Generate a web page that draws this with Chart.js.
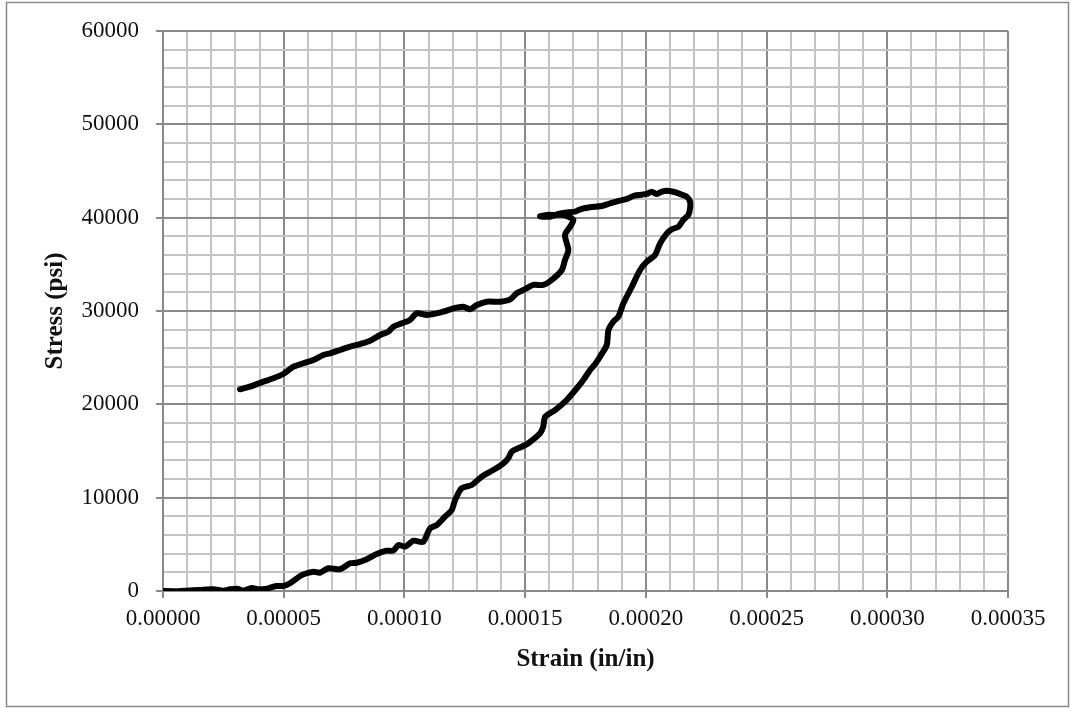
<!DOCTYPE html>
<html>
<head>
<meta charset="utf-8">
<script src="https://cdn.jsdelivr.net/npm/chart.js@4/dist/chart.umd.min.js"></script>
<style>
  html, body { margin: 0; padding: 0; background: #fff; }
  canvas { display: block; }
</style>
</head>
<body>
<canvas id="c" width="1070" height="708"></canvas>
<script>
// Strain (in/in) and stress (psi)
const strain = [
  0, 0.57e-5, 0.98e-5, 1.53e-5, 2.08e-5, 2.50e-5, 2.78e-5, 3.05e-5, 3.33e-5, 3.67e-5,
  3.95e-5, 4.30e-5, 4.50e-5, 4.71e-5, 4.98e-5, 5.26e-5, 5.68e-5, 5.95e-5, 6.23e-5, 6.50e-5,
  6.85e-5, 7.33e-5, 7.75e-5, 8.02e-5, 8.44e-5, 8.85e-5, 9.27e-5, 9.54e-5, 9.75e-5, 10.03e-5,
  10.37e-5, 10.78e-5, 11.06e-5, 11.34e-5, 11.68e-5, 11.96e-5, 12.10e-5, 12.37e-5, 12.79e-5, 13.20e-5,
  13.68e-5, 14.10e-5, 14.30e-5, 14.45e-5, 14.86e-5, 15.13e-5, 15.62e-5, 15.75e-5, 15.83e-5, 16.24e-5,
  16.72e-5, 17.14e-5, 17.41e-5, 17.69e-5, 17.90e-5, 18.10e-5, 18.38e-5, 18.45e-5, 18.65e-5, 18.86e-5,
  19.07e-5, 19.42e-5, 19.76e-5, 20.04e-5, 20.38e-5, 20.59e-5, 20.87e-5, 21.07e-5, 21.35e-5, 21.55e-5,
  21.76e-5, 21.83e-5, 21.83e-5, 21.69e-5, 21.53e-5, 21.35e-5, 21.14e-5, 20.87e-5, 20.66e-5, 20.45e-5,
  20.24e-5, 20.04e-5, 19.69e-5, 19.48e-5, 19.28e-5, 18.93e-5, 18.52e-5, 18.17e-5, 17.69e-5, 17.28e-5,
  17.07e-5, 16.65e-5, 16.31e-5, 16.03e-5, 15.75e-5, 15.62e-5, 15.90e-5, 16.24e-5, 16.58e-5, 17.00e-5,
  16.86e-5, 16.65e-5, 16.79e-5, 16.65e-5, 16.52e-5, 16.10e-5, 15.75e-5, 15.34e-5, 14.93e-5, 14.65e-5,
  14.38e-5, 13.96e-5, 13.41e-5, 13.00e-5, 12.72e-5, 12.44e-5, 12.03e-5, 11.61e-5, 11.34e-5, 10.92e-5,
  10.51e-5, 10.23e-5, 9.89e-5, 9.54e-5, 9.33e-5, 8.99e-5, 8.58e-5, 8.16e-5, 7.75e-5, 7.33e-5,
  6.92e-5, 6.64e-5, 6.23e-5, 5.81e-5, 5.40e-5, 4.98e-5, 4.57e-5, 4.16e-5, 3.60e-5, 3.19e-5
];
const stress = [
  0, -50, 30, 110, 180, 30, 180, 250, 30, 320,
  180, 250, 400, 540, 540, 830, 1610, 1900, 2070, 1960,
  2430, 2330, 2970, 3030, 3400, 3960, 4320, 4320, 4930, 4750,
  5390, 5280, 6720, 7070, 7960, 8680, 9750, 11000, 11360, 12250,
  12960, 13680, 14220, 14930, 15460, 15830, 16900, 17600, 18680, 19390,
  20460, 21720, 22610, 23680, 24320, 25100, 26360, 27960, 28850, 29390,
  30820, 32600, 34390, 35280, 36000, 37250, 38320, 38750, 39030, 39750,
  40290, 41000, 41710, 42250, 42430, 42610, 42780, 42890, 42780, 42540,
  42780, 42540, 42430, 42320, 42070, 41820, 41540, 41250, 41110, 40900,
  40640, 40530, 40360, 40100, 40100, 40150, 40300, 40290, 40290, 39750,
  39030, 38140, 36540, 35460, 34390, 33320, 32790, 32790, 32250, 31900,
  31250, 31000, 31000, 30640, 30180, 30460, 30290, 29930, 29750, 29570,
  29750, 29040, 28680, 28320, 27780, 27430, 26820, 26460, 26170, 25820,
  25470, 25290, 24750, 24400, 24030, 23250, 22790, 22430, 21890, 21610
];

// Axis settings
const xMin = 0, xMax = 0.00035, xMajor = 0.00005, xMinorPerMajor = 5;
const yMin = 0, yMax = 60000, yMajor = 10000, yMinorPerMajor = 5;
const xTitle = 'Strain (in/in)';
const yTitle = 'Stress (psi)';

const points = strain.map((s, i) => ({ x: s, y: stress[i] }));

const FONT = '"Liberation Serif", "Times New Roman", serif';
const MAJOR_COLOR = '#8a8a8a';
const MINOR_COLOR = '#c4c4c4';

function buildTicks(min, max, major, perMajor) {
  const n = Math.round((max - min) / major) * perMajor;
  const step = major / perMajor;
  const out = [];
  for (let i = 0; i <= n; i++) {
    out.push({ value: +(min + i * step).toPrecision(10), major: i % perMajor === 0 });
  }
  return out;
}

const frame = {
  id: 'frame',
  beforeDraw(chart) {
    const ctx = chart.ctx;
    ctx.save();
    ctx.fillStyle = '#fff';
    ctx.fillRect(0, 0, chart.width, chart.height);
    ctx.restore();
  },
  afterDraw(chart) {
    const ctx = chart.ctx;
    ctx.save();
    ctx.strokeStyle = '#8a8a8a';
    ctx.lineWidth = 1.5;
    ctx.strokeRect(6.5, 2.5, 1062, 704);
    ctx.restore();
  }
};

new Chart(document.getElementById('c'), {
  type: 'scatter',
  data: {
    datasets: [{
      data: points,
      showLine: true,
      borderColor: '#000',
      backgroundColor: '#000',
      borderWidth: 6,
      pointRadius: 0,
      pointHoverRadius: 0,
      tension: 0.25,
      borderJoinStyle: 'round',
      borderCapStyle: 'round'
    }]
  },
  options: {
    responsive: false,
    animation: false,
    events: [],
    layout: { padding: { top: 31, right: 62, left: 0, bottom: 0 } },
    plugins: { legend: { display: false }, tooltip: { enabled: false } },
    scales: {
      x: {
        type: 'linear',
        min: xMin, max: xMax,
        afterBuildTicks: (s) => { s.ticks = buildTicks(xMin, xMax, xMajor, xMinorPerMajor); },
        afterFit: (s) => { s.height = 117; },
        border: { color: MAJOR_COLOR, width: 2 },
        grid: {
          color: (c) => (c.tick && c.tick.major) ? MAJOR_COLOR : MINOR_COLOR,
          tickColor: (c) => (c.tick && c.tick.major) ? MAJOR_COLOR : 'rgba(0,0,0,0)',
          lineWidth: 2,
          tickLength: 7,
          tickWidth: 2
        },
        ticks: {
          autoSkip: false,
          maxRotation: 0,
          padding: 7,
          color: '#111',
          font: { family: FONT, size: 23 },
          callback: function (v, i, ticks) { return ticks[i].major ? Number(v).toFixed(5) : ''; }
        },
        title: {
          display: true,
          text: xTitle,
          color: '#111',
          font: { family: FONT, size: 25, weight: 'bold' },
          padding: { top: 33, bottom: 33 }
        }
      },
      y: {
        type: 'linear',
        min: yMin, max: yMax,
        afterBuildTicks: (s) => { s.ticks = buildTicks(yMin, yMax, yMajor, yMinorPerMajor); },
        afterFit: (s) => { s.width = 163; },
        border: { color: MAJOR_COLOR, width: 2 },
        grid: {
          color: (c) => (c.tick && c.tick.major) ? MAJOR_COLOR : MINOR_COLOR,
          tickColor: (c) => (c.tick && c.tick.major) ? MAJOR_COLOR : 'rgba(0,0,0,0)',
          lineWidth: 2,
          tickLength: 7,
          tickWidth: 2
        },
        ticks: {
          autoSkip: false,
          padding: 17,
          color: '#111',
          font: { family: FONT, size: 23 },
          callback: function (v, i, ticks) { return ticks[i].major ? String(v) : ''; }
        },
        title: {
          display: true,
          text: yTitle,
          color: '#111',
          font: { family: FONT, size: 25, weight: 'bold' },
          padding: { top: 41, bottom: 41 }
        }
      }
    }
  },
  plugins: [frame]
});
</script>
</body>
</html>
